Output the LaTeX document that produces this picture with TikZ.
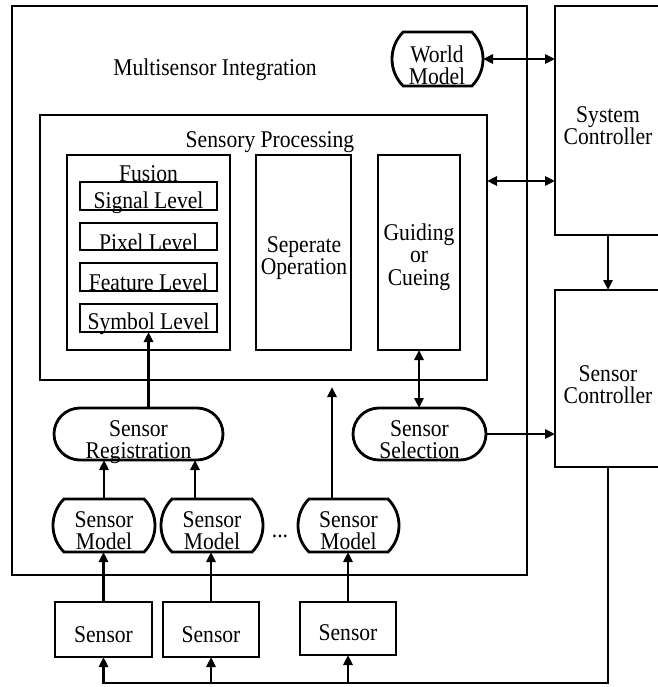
\documentclass[tikz,border=0pt]{standalone}
\usepackage{fontspec}
\setmainfont{Liberation Serif}[FakeStretch=0.9]
\usetikzlibrary{arrows.meta,shapes.misc}
\tikzset{
  ln/.style={line width=2.8pt},
  box/.style={draw, ln, rectangle, inner sep=0pt, outer sep=0pt},
  pill/.style={draw, ln, rounded rectangle, inner sep=0pt, outer sep=0pt},
  flatpill/.style={pill, rounded rectangle arc length=90},
  txt/.style={inner sep=0pt, outer sep=0pt, align=center, font=\fontsize{24}{22.5}\selectfont},
  arr/.style={ln, -{Triangle[length=10pt,width=9pt]}},
  darr/.style={ln, {Triangle[length=10pt,width=9pt]}-{Triangle[length=10pt,width=9pt]}},
}
\newcommand\bxn[6]{\node[#6, minimum width={(#4)-(#2)}, minimum height={(#5)-(#3)}] (#1) at ({((#2)+(#4))/2},{((#3)+(#5))/2}) {};}
\begin{document}
\begin{tikzpicture}[x=1pt,y=-1pt]
\useasboundingbox (0,0) rectangle (657,687);
% shapes
\bxn{msi}{12}{6}{527}{575}{box}
\bxn{sc}{555}{6}{661}{235}{box}
\bxn{sctl}{555}{290}{661}{467}{box}
\bxn{wm}{392}{32}{483}{86}{flatpill}
\bxn{sp}{40}{115}{487}{380}{box}
\bxn{fus}{67}{155}{230}{350}{box}
\bxn{sig}{80}{182}{217}{210}{box}
\bxn{pix}{80}{223}{217}{250}{box}
\bxn{fea}{80}{263}{217}{291}{box}
\bxn{sym}{80}{304}{217}{332}{box}
\bxn{sep}{256}{155}{351}{350}{box}
\bxn{gc}{378}{155}{460}{350}{box}
\bxn{sreg}{54}{408}{223}{460}{pill}
\bxn{ssel}{353}{408}{486}{460}{pill}
\bxn{sm1}{53}{499}{155}{552}{flatpill}
\bxn{sm2}{161}{499}{263}{552}{flatpill}
\bxn{sm3}{298}{499}{399}{552}{flatpill}
\bxn{s1}{55}{602}{152}{657}{box}
\bxn{s2}{163}{602}{259}{657}{box}
\bxn{s3}{300}{602}{396}{655}{box}
% texts
\node[txt, anchor=base] (msiT) at (215,76) {Multisensor Integration};
\node[txt, anchor=north] (wmT) at (437,45.6) {World\\Model};
\node[txt, anchor=north] (scT) at (608,106.6) {System\\Controller};
\node[txt, anchor=base] (spT) at (270,148) {Sensory Processing};
\node[txt, anchor=base] (fusT) at (148.5,182) {Fusion};
\node[txt, anchor=base] (sigT) at (148.5,208) {Signal Level};
\node[txt, anchor=base] (pixT) at (148.5,250) {Pixel Level};
\node[txt, anchor=base] (feaT) at (148.5,290) {Feature Level};
\node[txt, anchor=base] (symT) at (148.5,329) {Symbol Level};
\node[txt, anchor=north] (sepT) at (304,236.6) {Seperate\\Operation};
\node[txt, anchor=north] (gcT) at (419,223.6) {Guiding\\or\\Cueing};
\node[txt, anchor=north] (sregT) at (138.5,420.6) {Sensor\\Registration};
\node[txt, anchor=north] (sselT) at (419.5,420.6) {Sensor\\Selection};
\node[txt, anchor=north] (sctlT) at (608,365.6) {Sensor\\Controller};
\node[txt, anchor=north] (sm1T) at (104,511.6) {Sensor\\Model};
\node[txt, anchor=north] (sm2T) at (212,511.6) {Sensor\\Model};
\node[txt, anchor=north] (sm3T) at (348.5,511.6) {Sensor\\Model};
\node[txt, anchor=base] (dots) at (280,537) {...};
\node[txt, anchor=base] (s1T) at (103.5,642) {Sensor};
\node[txt, anchor=base] (s2T) at (211,642) {Sensor};
\node[txt, anchor=base] (s3T) at (348,640) {Sensor};
% connectors
\coordinate (spin) at (332,387);
\coordinate (fb) at (0,683);
\draw[darr] (wm.east) -- (wm.east -| sc.west);
\draw[darr] ([yshift=-66pt]sp.north east) -- ([yshift=-66pt]sp.north east -| sc.west);
\draw[arr] (sc.south) -- (sctl.north);
\draw[arr] (sym.south |- sreg.north) -- (sym.south);
\draw[arr] (sm3.north -| spin) -- (spin);
\draw[darr] (gc.south) -- (gc.south |- ssel.north);
\draw[arr] (ssel.east) -- (ssel.east -| sctl.west);
\draw[arr] (sm1.north) -- (sm1.north |- sreg.south);
\draw[arr] ([xshift=-17pt]sm2.north) -- ([xshift=-17pt]sm2.north |- sreg.south);
\draw[arr] (s1.north) -- (s1.north |- sm1.south);
\draw[arr] (s2.north) -- (s2.north |- sm2.south);
\draw[arr] (s3.north) -- (s3.north |- sm3.south);
\draw[arr] (sctl.south) |- (s1.south |- fb) -- (s1.south);
\draw[arr] (s2.south |- fb) -- (s2.south);
\draw[arr] (s3.south |- fb) -- (s3.south);
\end{tikzpicture}
\end{document}
